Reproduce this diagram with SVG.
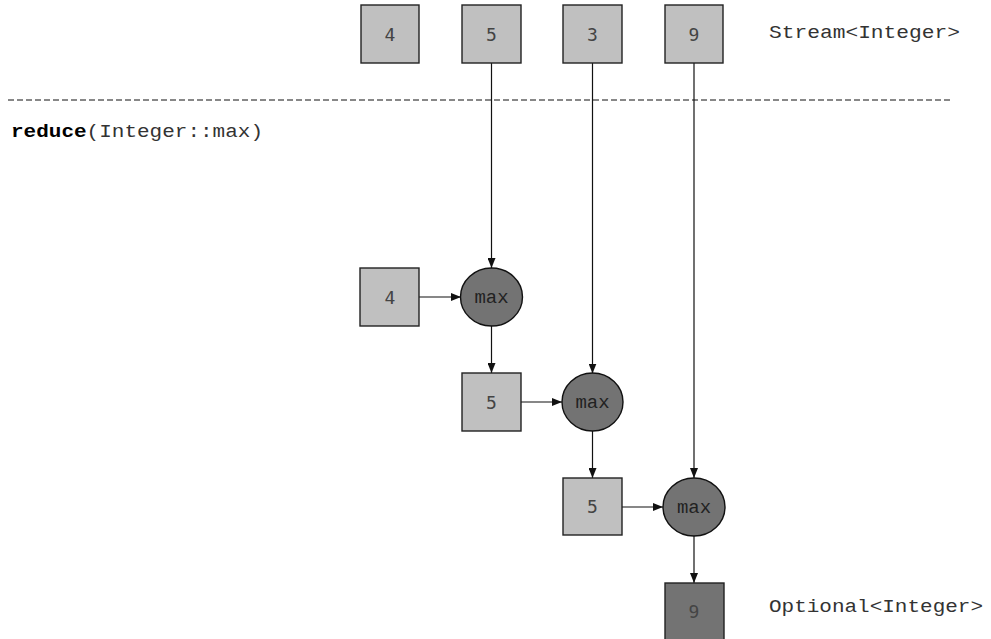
<svg xmlns="http://www.w3.org/2000/svg" width="991" height="639" viewBox="0 0 991 639">
<style>
.box{fill:#c0c0c0;stroke:#222;stroke-width:1.4}
.dbox{fill:#737373;stroke:#222;stroke-width:1.4}
.op{fill:#737373;stroke:#111;stroke-width:1.4}
.num{font-family:"DejaVu Sans Mono","Liberation Mono",monospace;font-size:18px;fill:#444;text-anchor:middle}
.mono{font-family:"Liberation Mono","Courier New",monospace;font-size:18px;fill:#333}
.opt{font-family:"Liberation Mono","Courier New",monospace;font-size:19px;fill:#222;text-anchor:middle}
.edge{stroke:#111;stroke-width:1.2;fill:none;marker-end:url(#ah)}
</style>
<defs>
<marker id="ah" viewBox="0 0 10 8" refX="10" refY="4" markerWidth="10" markerHeight="8" markerUnits="userSpaceOnUse" orient="auto">
<path d="M0,0L10,4L0,8z" fill="#111"/>
</marker>
</defs>
<rect width="991" height="639" fill="#fff"/>
<line x1="8" y1="100" x2="950" y2="100" stroke="#111" stroke-width="1" stroke-dasharray="6,3"/>
<text class="mono" x="769" y="38" textLength="191" lengthAdjust="spacingAndGlyphs">Stream&lt;Integer&gt;</text>
<text class="mono" x="11" y="137" textLength="252" lengthAdjust="spacingAndGlyphs"><tspan font-weight="bold" fill="#000">reduce</tspan>(Integer::max)</text>
<text class="mono" x="769" y="612" textLength="214" lengthAdjust="spacingAndGlyphs">Optional&lt;Integer&gt;</text>
<g id="connectors">
<line class="edge" x1="491.5" y1="63" x2="491.5" y2="268"/>
<line class="edge" x1="592.5" y1="63" x2="592.5" y2="373.5"/>
<line class="edge" x1="694" y1="63" x2="694" y2="478"/>
<line class="edge" x1="419" y1="297" x2="461" y2="297"/>
<line class="edge" x1="491.5" y1="326" x2="491.5" y2="373"/>
<line class="edge" x1="521" y1="402" x2="562" y2="402"/>
<line class="edge" x1="592.5" y1="431" x2="592.5" y2="478"/>
<line class="edge" x1="622" y1="507" x2="663" y2="507"/>
<line class="edge" x1="694" y1="536" x2="694" y2="583"/>
</g>
<g id="in4"><rect class="box" x="361" y="5" width="58" height="58"/><text class="num" x="390" y="41">4</text></g>
<g id="in5"><rect class="box" x="462" y="5" width="59" height="58"/><text class="num" x="491.5" y="41">5</text></g>
<g id="in3"><rect class="box" x="563" y="5" width="59" height="58"/><text class="num" x="592.5" y="41">3</text></g>
<g id="in9"><rect class="box" x="665" y="5" width="58" height="58"/><text class="num" x="694" y="41">9</text></g>
<g id="acc4"><rect class="box" x="360" y="268" width="59" height="58"/><text class="num" x="390" y="304">4</text></g>
<g id="max1"><ellipse class="op" cx="491.5" cy="297" rx="31" ry="29"/><text class="opt" x="491.5" y="303">max</text></g>
<g id="acc5a"><rect class="box" x="462" y="373" width="59" height="58"/><text class="num" x="491.5" y="409">5</text></g>
<g id="max2"><ellipse class="op" cx="592.5" cy="402" rx="30.5" ry="29"/><text class="opt" x="592.5" y="408">max</text></g>
<g id="acc5b"><rect class="box" x="563" y="478" width="59" height="57"/><text class="num" x="592.5" y="513">5</text></g>
<g id="max3"><ellipse class="op" cx="694" cy="507" rx="31" ry="29"/><text class="opt" x="694" y="513">max</text></g>
<g id="out9"><rect class="dbox" x="665" y="583" width="59" height="60"/><text class="num" x="694" y="618">9</text></g>
</svg>
